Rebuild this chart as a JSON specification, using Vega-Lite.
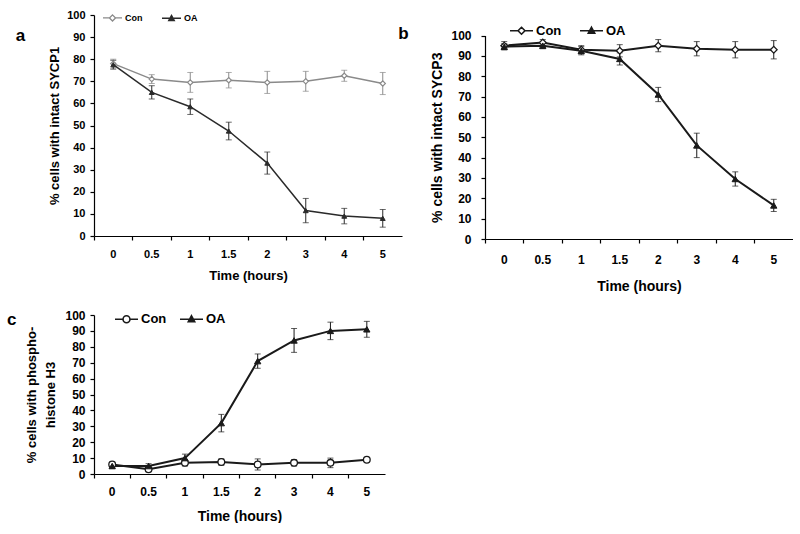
{
  "$schema": "https://vega.github.io/schema/vega-lite/v6.json",
  "background": "white",
  "padding": {"left": 7, "top": 7, "right": 0, "bottom": 0},
  "datasets": {
    "a": [
      {"time": "0", "series": "Con", "mean": 78, "err": 2},
      {"time": "0.5", "series": "Con", "mean": 71, "err": 2},
      {"time": "1", "series": "Con", "mean": 69.5, "err": 4.5},
      {"time": "1.5", "series": "Con", "mean": 70.5, "err": 3.5},
      {"time": "2", "series": "Con", "mean": 69.5, "err": 5},
      {"time": "3", "series": "Con", "mean": 70, "err": 4.5},
      {"time": "4", "series": "Con", "mean": 72.5, "err": 2.5},
      {"time": "5", "series": "Con", "mean": 69, "err": 5},
      {"time": "0", "series": "OA", "mean": 77.5, "err": 2},
      {"time": "0.5", "series": "OA", "mean": 65, "err": 3},
      {"time": "1", "series": "OA", "mean": 58.5, "err": 3.5},
      {"time": "1.5", "series": "OA", "mean": 47.5, "err": 4},
      {"time": "2", "series": "OA", "mean": 33, "err": 5},
      {"time": "3", "series": "OA", "mean": 11.5, "err": 5.5},
      {"time": "4", "series": "OA", "mean": 9, "err": 3.5},
      {"time": "5", "series": "OA", "mean": 8, "err": 4}
    ],
    "b": [
      {"time": "0", "series": "Con", "mean": 95, "err": 2},
      {"time": "0.5", "series": "Con", "mean": 96.5, "err": 1.5},
      {"time": "1", "series": "Con", "mean": 93, "err": 2},
      {"time": "1.5", "series": "Con", "mean": 92.5, "err": 3},
      {"time": "2", "series": "Con", "mean": 95, "err": 3},
      {"time": "3", "series": "Con", "mean": 93.5, "err": 3.5},
      {"time": "4", "series": "Con", "mean": 93, "err": 4},
      {"time": "5", "series": "Con", "mean": 93, "err": 4.5},
      {"time": "0", "series": "OA", "mean": 94.5, "err": 1.5},
      {"time": "0.5", "series": "OA", "mean": 95, "err": 1.5},
      {"time": "1", "series": "OA", "mean": 92.5, "err": 2},
      {"time": "1.5", "series": "OA", "mean": 88.5, "err": 3},
      {"time": "2", "series": "OA", "mean": 71, "err": 3.5},
      {"time": "3", "series": "OA", "mean": 46, "err": 6},
      {"time": "4", "series": "OA", "mean": 29.5, "err": 3.5},
      {"time": "5", "series": "OA", "mean": 16.5, "err": 3}
    ],
    "c": [
      {"time": "0", "series": "Con", "mean": 6, "err": 1.5},
      {"time": "0.5", "series": "Con", "mean": 3, "err": 1.5},
      {"time": "1", "series": "Con", "mean": 7, "err": 2},
      {"time": "1.5", "series": "Con", "mean": 7.5, "err": 2},
      {"time": "2", "series": "Con", "mean": 6, "err": 3.5},
      {"time": "3", "series": "Con", "mean": 7, "err": 2},
      {"time": "4", "series": "Con", "mean": 7, "err": 3},
      {"time": "5", "series": "Con", "mean": 9, "err": 1},
      {"time": "0", "series": "OA", "mean": 5, "err": 1.5},
      {"time": "0.5", "series": "OA", "mean": 5, "err": 1.5},
      {"time": "1", "series": "OA", "mean": 10, "err": 2.5},
      {"time": "1.5", "series": "OA", "mean": 32, "err": 5.5},
      {"time": "2", "series": "OA", "mean": 71, "err": 4.5},
      {"time": "3", "series": "OA", "mean": 84, "err": 7.5},
      {"time": "4", "series": "OA", "mean": 90, "err": 5.5},
      {"time": "5", "series": "OA", "mean": 91, "err": 5}
    ]
  },
  "vconcat": [
    {
      "hconcat": [
        {
          "width": 308,
          "height": 221,
          "title": {"text": "a", "orient": "left", "anchor": "end", "frame": "group", "angle": 0, "align": "right", "baseline": "middle", "fontSize": 17, "fontWeight": "bold", "offset": 14, "dy": 21},
          "data": {"name": "a"},
          "encoding": {
            "x": {"field": "time", "type": "ordinal", "sort": ["0", "0.5", "1", "1.5", "2", "3", "4", "5"], "scale": {"type": "band", "paddingInner": 0, "paddingOuter": 0},
              "axis": {"title": "Time (hours)", "labelAngle": 0, "bandPosition": 0, "labelFontSize": 11, "labelPadding": 8, "titleFontSize": 13, "titlePadding": 10}},
            "y": {"field": "mean", "type": "quantitative", "scale": {"domain": [0, 100], "nice": false},
              "axis": {"title": "% cells with intact SYCP1", "values": [0, 10, 20, 30, 40, 50, 60, 70, 80, 90, 100], "labelFontSize": 11, "labelPadding": 5, "titleFontSize": 13, "titlePadding": 5}}
          },
          "layer": [
            {
              "mark": {"type": "errorbar", "ticks": {"size": 6}, "thickness": 1},
              "encoding": {"yError": {"field": "err"}, "color": {"field": "series", "type": "nominal", "scale": {"domain": ["Con", "OA"], "range": ["#8a8a8a", "#2a2a2a"]}}}
            },
            {
              "mark": {"type": "line", "strokeWidth": 1.5},
              "encoding": {"color": {"field": "series", "type": "nominal", "scale": {"domain": ["Con", "OA"], "range": ["#8a8a8a", "#2a2a2a"]},
                "legend": {"orient": "none", "legendX": 8, "legendY": -8, "direction": "horizontal", "title": null, "symbolSize": 361, "symbolStrokeWidth": 1.3, "labelFontSize": 9, "labelFontWeight": "bold", "labelOffset": 2, "columnPadding": 16,
                  "encode": {"symbols": {"update": {
                    "shape": [{"test": "datum.value === 'Con'", "value": "M-1,0H-0.32M0.32,0H1M0,-0.32L0.32,0L0,0.32L-0.32,0Z"}, {"value": "M-1,0H1M0,-0.3L0.3,0.25L-0.3,0.25Z"}],
                    "fill": [{"test": "datum.value === 'Con'", "value": "white"}, {"value": "#2a2a2a"}],
                    "fillOpacity": [{"test": "datum.value === 'Con'", "value": 0}, {"value": 1}]}}}}}}
            },
            {
              "transform": [{"filter": "datum.series === 'Con'"}],
              "mark": {"type": "point", "shape": "diamond", "filled": true, "fill": "white", "stroke": "#8a8a8a", "size": 28, "strokeWidth": 1.2, "opacity": 1}
            },
            {
              "transform": [{"filter": "datum.series === 'OA'"}],
              "mark": {"type": "point", "shape": "triangle-up", "filled": true, "fill": "#2a2a2a", "stroke": "#2a2a2a", "size": 24, "strokeWidth": 1, "opacity": 1}
            }
          ]
        },
        {
          "width": 308,
          "height": 224,
          "title": {"text": "b", "orient": "left", "anchor": "end", "frame": "group", "angle": 0, "align": "right", "baseline": "middle", "fontSize": 17, "fontWeight": "bold", "offset": 12, "dy": 19},
          "data": {"name": "b"},
          "encoding": {
            "x": {"field": "time", "type": "ordinal", "sort": ["0", "0.5", "1", "1.5", "2", "3", "4", "5"], "scale": {"type": "band", "paddingInner": 0, "paddingOuter": 0},
              "axis": {"title": "Time (hours)", "labelAngle": 0, "bandPosition": 0, "labelFontSize": 12, "labelPadding": 11, "titleFontSize": 14, "titlePadding": 14}},
            "y": {"field": "mean", "type": "quantitative", "scale": {"domain": [0, 100], "nice": false, "range": [224, 20.5]},
              "axis": {"title": "% cells with intact SYCP3", "values": [0, 10, 20, 30, 40, 50, 60, 70, 80, 90, 100], "labelFontSize": 12, "labelPadding": 10, "titleFontSize": 14, "titlePadding": 6}}
          },
          "layer": [
            {
              "mark": {"type": "errorbar", "ticks": {"size": 6}, "thickness": 1},
              "encoding": {"yError": {"field": "err"}, "color": {"field": "series", "type": "nominal", "scale": {"domain": ["Con", "OA"], "range": ["#1a1a1a", "#1a1a1a"]}}}
            },
            {
              "mark": {"type": "line", "strokeWidth": 2},
              "encoding": {"color": {"field": "series", "type": "nominal", "scale": {"domain": ["Con", "OA"], "range": ["#1a1a1a", "#1a1a1a"]},
                "legend": {"orient": "none", "legendX": 24, "legendY": 3, "direction": "horizontal", "title": null, "symbolSize": 529, "symbolStrokeWidth": 1.6, "labelFontSize": 13, "labelFontWeight": "bold", "labelOffset": 2, "columnPadding": 14,
                  "encode": {"symbols": {"update": {
                    "shape": [{"test": "datum.value === 'Con'", "value": "M-1,0H-0.3M0.3,0H1M0,-0.3L0.3,0L0,0.3L-0.3,0Z"}, {"value": "M-1,0H1M0,-0.3L0.28,0.22L-0.28,0.22Z"}],
                    "fill": [{"test": "datum.value === 'Con'", "value": "white"}, {"value": "#1a1a1a"}],
                    "fillOpacity": [{"test": "datum.value === 'Con'", "value": 0}, {"value": 1}]}}}}}}
            },
            {
              "transform": [{"filter": "datum.series === 'Con'"}],
              "mark": {"type": "point", "shape": "diamond", "filled": true, "fill": "white", "stroke": "#1a1a1a", "size": 45, "strokeWidth": 1.3, "opacity": 1}
            },
            {
              "transform": [{"filter": "datum.series === 'OA'"}],
              "mark": {"type": "point", "shape": "triangle-up", "filled": true, "fill": "#1a1a1a", "stroke": "#1a1a1a", "size": 40, "strokeWidth": 1, "opacity": 1}
            }
          ]
        }
      ],
      "spacing": -4,
      "resolve": {"scale": {"color": "independent"}, "legend": {"color": "independent"}}
    },
    {
      "width": 291,
      "height": 159,
      "title": {"text": "c", "orient": "left", "anchor": "end", "frame": "group", "angle": 0, "align": "right", "baseline": "middle", "fontSize": 17, "fontWeight": "bold", "offset": 0, "dy": 5},
      "data": {"name": "c"},
      "encoding": {
        "x": {"field": "time", "type": "ordinal", "sort": ["0", "0.5", "1", "1.5", "2", "3", "4", "5"], "scale": {"type": "band", "paddingInner": 0, "paddingOuter": 0},
          "axis": {"title": "Time (hours)", "labelAngle": 0, "bandPosition": 0, "labelFontSize": 12, "labelPadding": 8, "titleFontSize": 14, "titlePadding": 12}},
        "y": {"field": "mean", "type": "quantitative", "scale": {"domain": [0, 100], "nice": false},
          "axis": {"title": ["% cells with phospho-", "histone H3"], "titleLineHeight": 19, "values": [0, 10, 20, 30, 40, 50, 60, 70, 80, 90, 100], "labelFontSize": 12, "labelPadding": 5, "titleFontSize": 13, "titlePadding": 7}}
      },
      "layer": [
        {
          "mark": {"type": "errorbar", "ticks": {"size": 6}, "thickness": 1},
          "encoding": {"yError": {"field": "err"}, "color": {"field": "series", "type": "nominal", "scale": {"domain": ["Con", "OA"], "range": ["#1a1a1a", "#1a1a1a"]}}}
        },
        {
          "mark": {"type": "line", "strokeWidth": 2},
          "encoding": {"color": {"field": "series", "type": "nominal", "scale": {"domain": ["Con", "OA"], "range": ["#1a1a1a", "#1a1a1a"]},
            "legend": {"orient": "none", "legendX": 20, "legendY": -8.5, "direction": "horizontal", "title": null, "symbolSize": 529, "symbolStrokeWidth": 1.6, "labelFontSize": 13, "labelFontWeight": "bold", "labelOffset": 2, "columnPadding": 9,
              "encode": {"symbols": {"update": {
                "shape": [{"test": "datum.value === 'Con'", "value": "M-1,0H-0.3M0.3,0H1M-0.3,0A0.3,0.3 0 1,0 0.3,0A0.3,0.3 0 1,0 -0.3,0Z"}, {"value": "M-1,0H1M0,-0.3L0.28,0.22L-0.28,0.22Z"}],
                "fill": [{"test": "datum.value === 'Con'", "value": "white"}, {"value": "#1a1a1a"}],
                "fillOpacity": [{"test": "datum.value === 'Con'", "value": 0}, {"value": 1}]}}}}}}
        },
        {
          "transform": [{"filter": "datum.series === 'Con'"}],
          "mark": {"type": "point", "shape": "circle", "filled": true, "fill": "white", "stroke": "#1a1a1a", "size": 45, "strokeWidth": 1.3, "opacity": 1}
        },
        {
          "transform": [{"filter": "datum.series === 'OA'"}],
          "mark": {"type": "point", "shape": "triangle-up", "filled": true, "fill": "#1a1a1a", "stroke": "#1a1a1a", "size": 40, "strokeWidth": 1, "opacity": 1}
        }
      ]
    }
  ],
  "spacing": 13,
  "resolve": {"scale": {"color": "independent"}, "legend": {"color": "independent"}},
  "config": {
    "view": {"stroke": null},
    "font": "Liberation Sans",
    "axis": {"grid": false, "domainColor": "#000", "tickColor": "#000", "labelColor": "#000", "titleColor": "#000", "labelFontWeight": "bold", "titleFontWeight": "bold", "labelFont": "Liberation Sans", "titleFont": "Liberation Sans", "tickSize": 4, "domainWidth": 1.2, "tickWidth": 1.2},
    "legend": {"labelFont": "Liberation Sans", "labelColor": "#000"},
    "title": {"font": "Liberation Sans", "color": "#000"}
  }
}
